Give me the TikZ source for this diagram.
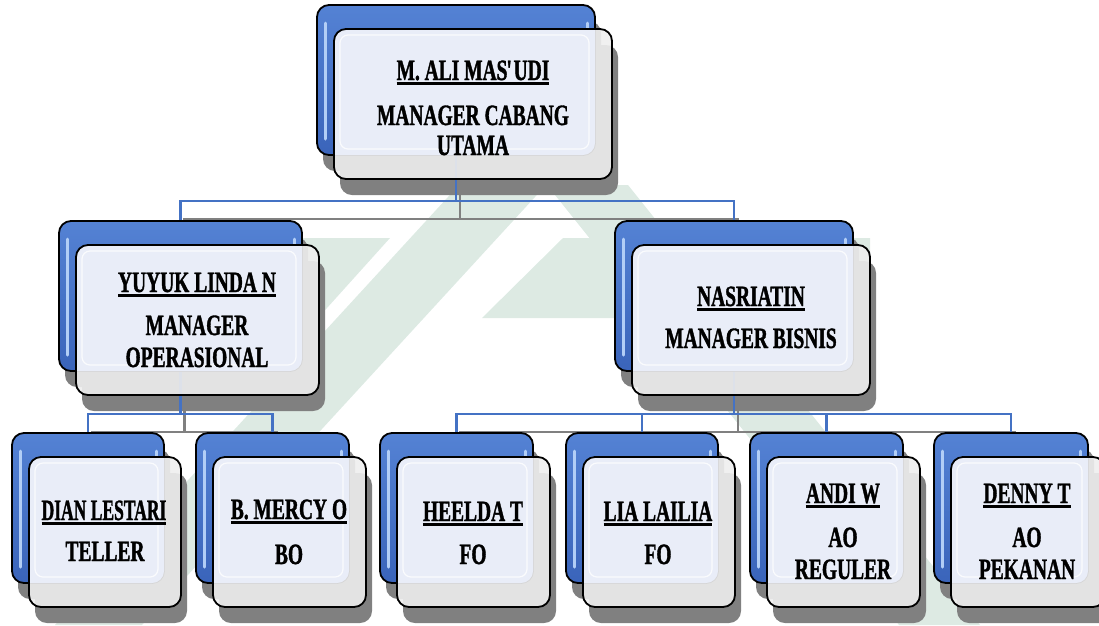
\documentclass[tikz,border=0pt]{standalone}
\usepackage{fontspec}
\newfontfamily\orgfont{Liberation Serif}[FakeStretch=0.66,FakeBold=1.2]
\usetikzlibrary{calc}
\pgfdeclarelayer{wm}\pgfdeclarelayer{sh}\pgfdeclarelayer{cn}
\pgfsetlayers{wm,sh,cn,main}
\definecolor{bluetop}{RGB}{84,130,212}
\definecolor{bluebot}{RGB}{58,100,186}
\definecolor{hl}{RGB}{178,206,246}
\definecolor{frontgrey}{RGB}{238,238,238}
\definecolor{lav}{RGB}{233,237,248}
\definecolor{shc}{RGB}{128,128,128}
\definecolor{connblue}{RGB}{68,114,196}
\definecolor{wmgreen}{RGB}{221,234,227}
\tikzset{
 backbox/.style={rectangle, rounded corners=12pt, draw=black, line width=1.8pt, top color=bluetop, bottom color=bluebot, minimum height=150pt, inner sep=0pt, outer sep=0pt},
 frontbox/.style={rectangle, rounded corners=12pt, fill=frontgrey, fill opacity=0.9, minimum height=150pt, inner sep=0pt, outer sep=0pt},
 outl/.style={draw=black, line width=1.8pt, rounded corners=12pt},
 hline/.style={draw=hl, line width=3pt, line cap=round},
 conn/.style={draw=connblue, line width=2.2pt},
 connsh/.style={draw=shc, line width=2.2pt},
 txt/.style={font=\orgfont\bfseries\fontsize{29.5}{31}\selectfont, anchor=base, inner sep=0pt},
 wmark/.style={fill=wmgreen}
}
\newcommand\nmul[1]{\setbox0=\hbox{#1}\rlap{\rule[-5pt]{\wd0}{2.6pt}}\box0}
\newcommand\orgpair[4]{%
 \node[backbox, minimum width=#4pt] (#1B) at ({#2+#4/2},{#3+75}) {};
 \draw[hline] ($(#1B.north west)+(8,18)$) -- ($(#1B.south west)+(8,-16)$);
 \draw[hline] ($(#1B.north east)+(-8,18)$) -- ($(#1B.north east)+(-8,30)$);
 \node[frontbox, minimum width=#4pt] (#1F) at ({#2+#4/2+17},{#3+99}) {};
 \begin{scope}
  \clip[rounded corners=12pt] (#1B.south west) rectangle (#1B.north east);
  \fill[lav, rounded corners=12pt] (#1F.south west) rectangle (#1F.north east);
 \end{scope}
 \draw[white, line width=1.2pt, opacity=0.8, rounded corners=8pt] ($(#1F.north west)+(6,6)$) rectangle ($(#1B.south east)+(-6,-6)$);
 \draw[outl] (#1F.south west) rectangle (#1F.north east);
 \begin{pgfonlayer}{sh}
  \fill[shc, rounded corners=12pt] ($(#1B.south west)+(6,16)$) rectangle ($(#1B.north east)+(6,16)$);
  \fill[shc, rounded corners=12pt] ($(#1F.south west)+(6,16)$) rectangle ($(#1F.north east)+(6,16)$);
 \end{pgfonlayer}
}
\begin{document}
\begin{tikzpicture}[x=1pt,y=-1pt]
\useasboundingbox (0,0) rectangle (1099,625);
% watermark
\begin{pgfonlayer}{wm}
 \fill[wmark] (459,185) -- (546,185) -- (142,625) -- (55,625) -- cycle;
 \fill[wmark] (547,185) -- (628,185) -- (980,625) -- (899,625) -- cycle;
 \fill[wmark] (260,238) -- (390,238) -- (318,318) -- (260,318) -- cycle;
 \fill[wmark] (563,238) -- (870,238) -- (870,318) -- (482,318) -- cycle;
\end{pgfonlayer}
% boxes
\orgpair{top}{317}{5}{278}
\orgpair{l2a}{59}{221}{243}
\orgpair{l2b}{615}{221}{238}
\orgpair{l3a}{12}{433}{152}
\orgpair{l3b}{196}{433}{153}
\orgpair{l3c}{380}{433}{153}
\orgpair{l3d}{566}{433}{152}
\orgpair{l3e}{750}{433}{153}
\orgpair{l3f}{934}{433}{154}
% connectors
\begin{pgfonlayer}{cn}
 \draw[connsh] ($(topB.south)+(4,18)$) -- ++(0,46) -| ($(l2aB.north)+(4,18)$);
 \draw[connsh] ($(topB.south)+(4,18)$) -- ++(0,46) -| ($(l2bB.north)+(4,18)$);
 \draw[connsh] ($(l2aB.south)+(4,18)$) -- ++(0,43) -| ($(l3aB.north)+(4,18)$);
 \draw[connsh] ($(l2aB.south)+(4,18)$) -- ++(0,43) -| ($(l3bB.north)+(4,18)$);
 \draw[connsh] ($(l2bB.south)+(4,18)$) -- ++(0,43) -| ($(l3cB.north)+(4,18)$);
 \draw[connsh] ($(l2bB.south)+(4,18)$) -- ++(0,43) -| ($(l3dB.north)+(4,18)$);
 \draw[connsh] ($(l2bB.south)+(4,18)$) -- ++(0,43) -| ($(l3eB.north)+(4,18)$);
 \draw[connsh] ($(l2bB.south)+(4,18)$) -- ++(0,43) -| ($(l3fB.north)+(4,18)$);
 \draw[conn] (topB.south) -- ++(0,46) -| (l2aB.north);
 \draw[conn] (topB.south) -- ++(0,46) -| (l2bB.north);
 \draw[conn] (l2aB.south) -- ++(0,43) -| (l3aB.north);
 \draw[conn] (l2aB.south) -- ++(0,43) -| (l3bB.north);
 \draw[conn] (l2bB.south) -- ++(0,43) -| (l3cB.north);
 \draw[conn] (l2bB.south) -- ++(0,43) -| (l3dB.north);
 \draw[conn] (l2bB.south) -- ++(0,43) -| (l3eB.north);
 \draw[conn] (l2bB.south) -- ++(0,43) -| (l3fB.north);
\end{pgfonlayer}
% texts
\node[txt] (topn) at (473,80) {\nmul{M. ALI MAS\kern-1pt\textquotesingle\kern-1pt UDI}};
\node[txt] (topt1) at (473,125) {MANAGER CABANG};
\node[txt] (topt2) at (473,155) {UTAMA};
\node[txt] (l2an) at (197,292) {\nmul{YUYUK LINDA N}};
\node[txt] (l2at1) at (197,335) {MANAGER};
\node[txt] (l2at2) at (197,367) {OPERASIONAL};
\node[txt] (l2bn) at (751,306) {\nmul{NASRIATIN}};
\node[txt] (l2bt) at (751,348) {MANAGER BISNIS};
\node[txt] (l3an) at (104,520) {\nmul{\scalebox{0.9}[1]{DIAN LESTARI}}};
\node[txt] (l3at) at (105,561) {TELLER};
\node[txt] (l3bn) at (289,519) {\nmul{B. MERCY O}};
\node[txt] (l3bt) at (289,564) {BO};
\node[txt] (l3cn) at (473,521) {\nmul{HEELDA T}};
\node[txt] (l3ct) at (473,564) {FO};
\node[txt] (l3dn) at (658,521) {\nmul{LIA LAILIA}};
\node[txt] (l3dt) at (658,564) {FO};
\node[txt] (l3en) at (843,503) {\nmul{ANDI W}};
\node[txt] (l3et1) at (843,547) {AO};
\node[txt] (l3et2) at (843,579) {REGULER};
\node[txt] (l3fn) at (1027,503) {\nmul{DENNY T}};
\node[txt] (l3ft1) at (1027,547) {AO};
\node[txt] (l3ft2) at (1027,579) {PEKANAN};
\end{tikzpicture}
\end{document}
